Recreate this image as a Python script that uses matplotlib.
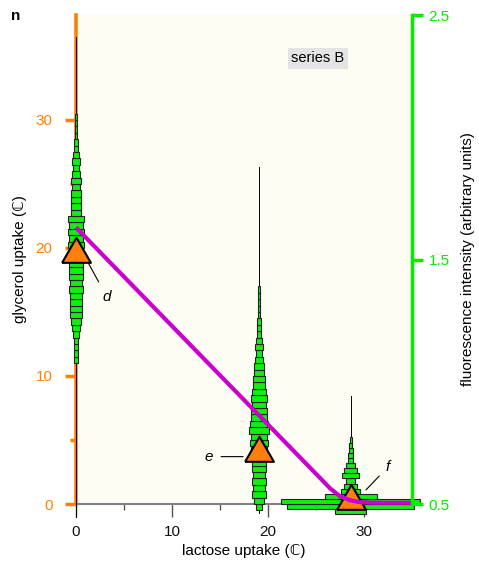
import matplotlib
matplotlib.use("Agg")
import matplotlib.pyplot as plt
import numpy as np

plt.rcParams["font.family"] = ["Liberation Sans", "DejaVu Sans"]
plt.rcParams["font.size"] = 10

ORANGE, GREEN, MAGENTA, BAR = "#ff8000", "#00ee00", "#cc00cc", "#11ee11"

# ---- histogram stacks: centre x, first bin edge, bin height, widths, stem range
stack_x = [0.0, 19.06, 28.6]
stack_y0 = [11.0, -0.5, -0.8]
stack_bin = [0.5, 0.5, 0.4]
widths_a = [0.4, 0.5, 0.5, 0.5, 0.6, 0.9, 1.0, 1.2, 1.3, 1.2, 1.3, 1.4, 1.3,
            1.4, 1.5, 1.4, 1.5, 1.5, 1.6, 1.5, 1.7, 1.5, 1.7, 1.1, 1.0, 1.1,
            1.0, 0.9, 1.0, 0.8, 0.7, 0.8, 0.6, 0.5, 0.4, 0.3, 0.3, 0.2, 0.2]
widths_b = [0.6, 1.0, 1.4, 1.3, 1.4, 1.3, 1.4, 1.5, 1.6, 1.6, 1.8, 1.7, 2.0,
            1.8, 1.6, 1.7, 1.5, 1.6, 1.4, 1.3, 1.2, 1.0, 1.1, 0.9, 0.7, 0.8,
            0.6, 0.5, 0.5, 0.4, 0.3, 0.3, 0.25, 0.2, 0.2]
widths_c = [3.3, 13.2, 14.4, 5.4, 1.9, 1.3, 1.0, 1.8, 1.3, 0.9, 0.6, 0.5,
            0.4, 0.3, 0.2]
stem_lo = [-1.0, -0.7, -0.8]
stem_hi = [36.5, 26.3, 8.4]

# ---- orange markers and their labels
tri_x = [0.0, 19.06, 28.6]
tri_y = [19.5, 4.0, 0.2]
tri_lab = ["d", "e", "f"]
lab_xy = [(3.2, 16.2), (13.8, 3.7), (32.5, 2.9)]
lab_tip = [(1.3, 18.8), (17.4, 3.7), (30.2, 1.1)]

# ---- magenta trend line
line_x = [0, 26.5, 27.5, 28.5, 29.5, 31, 35]
line_y = [21.6, 1.2, 0.6, 0.3, 0.15, 0.1, 0.1]

fig = plt.figure(figsize=(4.79, 5.62), dpi=100)
ax = fig.add_axes([0.1587, 0.1032, 0.7015, 0.8701])
ax.set_facecolor("#fdfdf4")
ax.set_xlim(0, 35)
ax.set_ylim(0, 38.2)

for cx, y0, bh, w, lo, hi in zip(stack_x, stack_y0, stack_bin,
                                  [widths_a, widths_b, widths_c],
                                  stem_lo, stem_hi):
    w = np.array(w)
    yc = y0 + bh * (np.arange(len(w)) + 0.5)
    ax.plot([cx, cx], [lo, hi], color="black", lw=0.7, zorder=2.7, clip_on=False)
    ax.barh(yc, w, height=bh, left=cx - w / 2, color=BAR, edgecolor="#222222",
            lw=0.8, zorder=3, clip_on=False)

tri = [(-1, -0.577), (1, -0.577), (0, 1.155), (-1, -0.577)]
ax.plot(tri_x, tri_y, ls="none", marker=tri, ms=24, mfc="#ff7f0e",
        mec="black", mew=1.5, zorder=4, clip_on=False)
ax.plot(line_x, line_y, color=MAGENTA, lw=3, zorder=5, clip_on=False,
        solid_capstyle="butt")

for t, (tx, ty), tip in zip(tri_lab, lab_xy, lab_tip):
    ax.annotate(t, xy=tip, xytext=(tx, ty), fontstyle="italic", fontsize=11,
                ha="center", va="center",
                arrowprops=dict(arrowstyle="-", color="black", lw=0.8,
                                shrinkA=4, shrinkB=0))

ax.text(0.72, 0.912, "series B", transform=ax.transAxes, ha="center",
        va="center", fontsize=10.5,
        bbox=dict(facecolor="#e4e4e4", edgecolor="none", pad=2.5))

# left axis
ax.spines["top"].set_visible(False)
ax.spines["right"].set_visible(False)
ax.spines["left"].set_color(ORANGE)
ax.spines["left"].set_linewidth(2.6)
ax.spines["bottom"].set_color("#808080")
ax.spines["bottom"].set_linewidth(1.5)
ax.set_yticks([0, 10, 20, 30])
ax.set_yticks([5, 15, 25], minor=True)
ax.tick_params(axis="y", which="major", colors=ORANGE, length=8, width=2.5,
               labelsize=11, pad=9)
ax.tick_params(axis="y", which="minor", colors=ORANGE, length=4, width=2.5)
ax.set_xticks([0, 10, 20, 30])
ax.set_xticks([5, 15, 25], minor=True)
ax.tick_params(axis="x", which="major", color="#555555", length=9, width=1,
               labelsize=11, labelcolor="#111111", pad=6)
ax.tick_params(axis="x", which="minor", color="#555555", length=4, width=1)
ax.set_xlabel("lactose uptake (ℂ)", fontsize=11, labelpad=4)
ax.set_ylabel("glycerol uptake (ℂ)", fontsize=11, labelpad=6)

# right axis
ax2 = ax.twinx()
ax2.set_ylim(0.5, 2.5)
ax2.set_yticks([0.5, 1.5, 2.5])
for s in ("top", "left", "bottom"):
    ax2.spines[s].set_visible(False)
ax2.spines["right"].set_color(GREEN)
ax2.spines["right"].set_linewidth(2.5)
ax2.tick_params(axis="y", colors=GREEN, length=8, width=2.5, labelsize=11,
                pad=4)
ax2.set_ylabel("fluorescence intensity (arbitrary units)", fontsize=11,
               labelpad=8)

fig.text(0.033, 0.972, "n", fontweight="bold", fontsize=11, ha="center",
         va="center")

fig.savefig("out.png", dpi=100)
